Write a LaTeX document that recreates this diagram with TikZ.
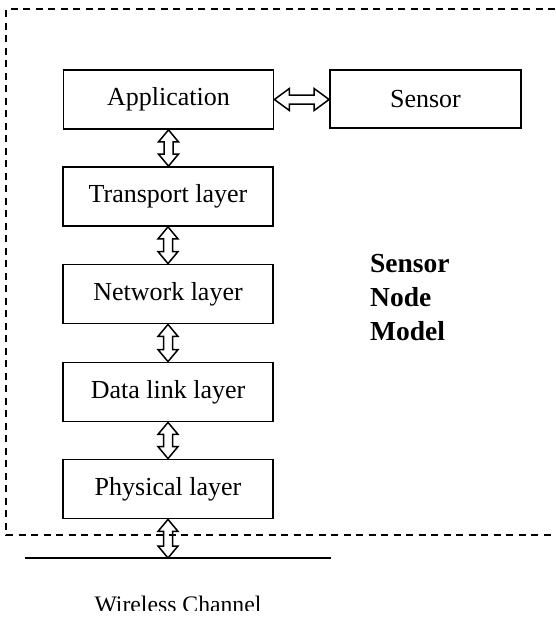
\documentclass[tikz,border=0pt]{standalone}
\usepackage{fontspec}
\setmainfont{Liberation Serif}
\usetikzlibrary{calc}
\tikzset{
  layerbox/.style={draw, line width=1.8pt, minimum width=210pt, minimum height=59pt, inner sep=0pt,
    font=\fontsize{26}{31}\selectfont},
  dblarrow/.style={draw, line width=1.5pt, line join=miter},
  outline/.style={draw, line width=2pt, dash pattern=on 7pt off 5.5pt},
}
\newcommand\vdarrow[2]{%
  \draw[dblarrow] let \p1=(#1), \p2=(#2) in
    (\x1,\y1) -- (\x1-10pt,\y1-12pt) -- (\x1-4.5pt,\y1-12pt) -- (\x1-4.5pt,\y2+12pt)
    -- (\x1-10pt,\y2+12pt) -- (\x1,\y2) -- (\x1+10pt,\y2+12pt) -- (\x1+4.5pt,\y2+12pt)
    -- (\x1+4.5pt,\y1-12pt) -- (\x1+10pt,\y1-12pt) -- cycle;}
\newcommand\hdarrow[2]{%
  \draw[dblarrow] let \p1=(#1), \p2=(#2) in
    (\x1,\y1) -- (\x1+15pt,\y1+11pt) -- (\x1+15pt,\y1+4.5pt) -- (\x2-15pt,\y1+4.5pt)
    -- (\x2-15pt,\y1+11pt) -- (\x2,\y1) -- (\x2-15pt,\y1-11pt) -- (\x2-15pt,\y1-4.5pt)
    -- (\x1+15pt,\y1-4.5pt) -- (\x1+15pt,\y1-11pt) -- cycle;}
\begin{document}
\begin{tikzpicture}[x=1pt, y=-1pt]
\useasboundingbox[fill=white] (0,0) rectangle (555,635);
% dashed outline (open to the right)
\draw[outline] (555,9) -- (6,9) -- (6,535) -- (555,535);
% layers
\node[layerbox] (app) at (168.5,99.5) {Application};
\node[layerbox, minimum width=191pt, minimum height=58pt] (sen) at (425.5,99) {Sensor};
\node[layerbox] (tra) at (168,196.5) {Transport layer};
\node[layerbox] (net) at (168,294) {Network layer};
\node[layerbox] (dll) at (168,392) {Data link layer};
\node[layerbox] (phy) at (168,489) {Physical layer};
% model label
\node[anchor=north west, align=left, inner sep=0pt,
  font=\fontsize{27.5}{34}\selectfont\bfseries] (lbl) at (370,254.5) {Sensor\\Node\\Model};
% channel line
\coordinate (wl) at (25,558);
\coordinate (wr) at (331,558);
\coordinate (ch) at (168,558);
\draw[line width=2pt] (wl) -- (wr);
% arrows
\hdarrow{app.east}{sen.west}
\vdarrow{app.south}{tra.north}
\vdarrow{tra.south}{net.north}
\vdarrow{net.south}{dll.north}
\vdarrow{dll.south}{phy.north}
\vdarrow{phy.south}{ch}
% clipped channel label
\begin{scope}
\clip (0,0) rectangle (555,610.5);
\node[anchor=base, inner sep=0pt, font=\fontsize{23.7}{28}\selectfont] (wc) at (178,612) {Wireless Channel};
\end{scope}
\end{tikzpicture}
\end{document}
